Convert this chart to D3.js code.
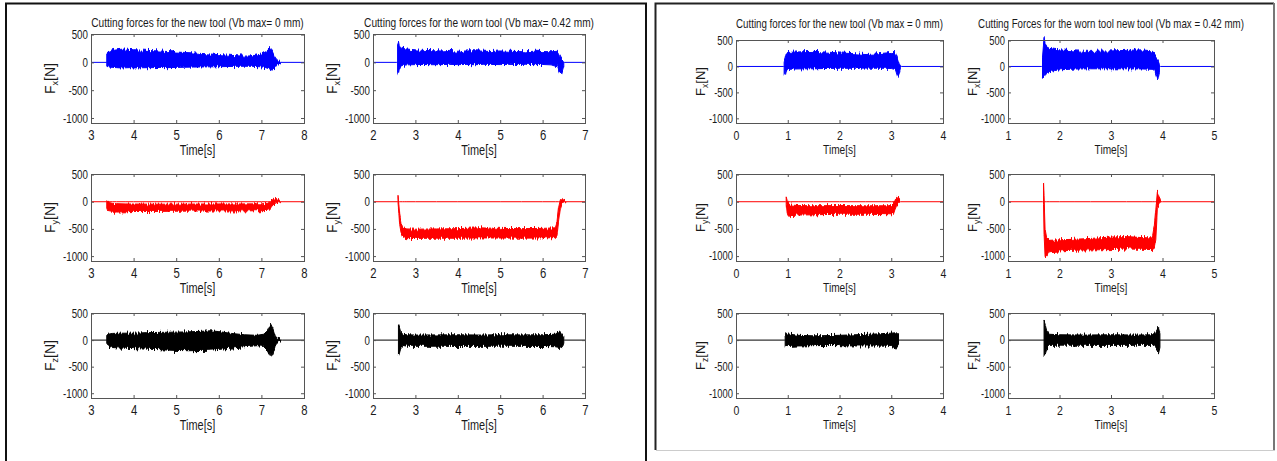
<!DOCTYPE html>
<html lang="en">
<head>
<meta charset="UTF-8">
<title>Cutting forces - new tool vs worn tool</title>
<script src="https://d3js.org/d3.v7.min.js"></script>
<style>
  body { margin: 0; background: #fff; }
  svg text { font-family: "Liberation Sans", Arial, Helvetica, sans-serif; fill: #1a1a1a; }
  .box { fill: none; stroke: #555; stroke-width: 1px; }
  .tick line { stroke: #555; }
  .sig { stroke-width: 1px; stroke-linejoin: round; }
</style>
</head>
<body>
<svg id="chart" width="1277" height="461">
  <defs>
    <filter id="rough" filterUnits="userSpaceOnUse" x="0" y="0" width="1277" height="461">
      <feTurbulence type="fractalNoise" baseFrequency="0.7 0.03" numOctaves="1" seed="3" result="n"/>
      <feColorMatrix in="n" type="matrix" values="0 0 0 0 0.5  1 0 0 0 0  0 0 0 0 0  0 0 0 0 1" result="m"/>
      <feDisplacementMap in="SourceGraphic" in2="m" scale="8" xChannelSelector="R" yChannelSelector="G"/>
    </filter>
  </defs>
</svg>
<script>
// ---- tick values -------------------------------------------------------
const yTicks = [500, 0, -500, -1000];
const yDomain = [-1090, 510];
const xTicksA1 = [3, 4, 5, 6, 7, 8];
const xTicksA2 = [2, 3, 4, 5, 6, 7];
const xTicksB1 = [0, 1, 2, 3, 4];
const xTicksB2 = [1, 2, 3, 4, 5];

// ---- titles ------------------------------------------------------------
const titleA1 = "Cutting forces for the new tool (Vb max= 0 mm)";
const titleA2 = "Cutting forces for the worn tool (Vb max= 0.42 mm)";
const titleB1 = "Cutting forces for the new tool (Vb max = 0 mm)";
const titleB2 = "Cutting Forces for the worn tool new tool (Vb max = 0.42 mm)";
const components = ["x", "y", "z"];

// ---- signal envelopes (time [s], upper [N], lower [N]) -----------------
// left figure, new tool
const aFxNewT  = [3.00, 3.36, 3.37, 3.40, 3.45, 3.50, 3.60, 3.70, 3.80, 3.90, 4.00, 4.20, 4.40, 4.60, 4.80, 5.00, 5.20, 5.40, 5.60, 5.80, 6.00, 6.20, 6.40, 6.60, 6.80, 7.00, 7.10, 7.20, 7.25, 7.30, 7.35, 7.40, 7.45, 8.00];
const aFxNewHi = [0, 0, 150, 175, 190, 210, 225, 235, 240, 232, 228, 220, 212, 205, 195, 185, 178, 170, 160, 150, 140, 130, 120, 112, 118, 150, 190, 250, 210, 120, 60, 30, 10, 0];
const aFxNewLo = [0, 0, -70, -80, -85, -90, -95, -100, -98, -95, -100, -97, -95, -92, -95, -90, -88, -85, -82, -80, -78, -75, -72, -70, -72, -80, -95, -120, -140, -120, -60, -30, -10, 0];

const aFyNewT  = [3.00, 3.36, 3.37, 3.40, 3.50, 3.60, 3.80, 4.00, 4.50, 5.00, 5.50, 6.00, 6.50, 7.00, 7.15, 7.20, 7.25, 7.30, 7.35, 7.40, 7.45, 8.00];
const aFyNewHi = [0, 0, 20, -10, -30, -35, -40, -42, -45, -45, -42, -40, -40, -38, -30, 0, 30, 50, 60, 40, 15, 0];
const aFyNewLo = [0, 0, -120, -180, -195, -190, -185, -180, -178, -175, -172, -170, -168, -165, -160, -130, -80, -40, -20, -10, 0, 0];

const aFzNewT  = [3.00, 3.36, 3.37, 3.40, 3.50, 3.70, 4.00, 4.30, 4.60, 5.00, 5.30, 5.60, 5.80, 6.00, 6.30, 6.60, 6.90, 7.05, 7.15, 7.22, 7.28, 7.32, 7.36, 7.45, 7.50, 8.00];
const aFzNewHi = [0, 0, 90, 110, 125, 130, 130, 140, 145, 150, 155, 165, 175, 160, 125, 100, 90, 110, 180, 300, 200, 90, 40, 20, 0, 0];
const aFzNewLo = [0, 0, -80, -110, -140, -150, -160, -170, -180, -195, -200, -195, -190, -175, -150, -125, -105, -120, -200, -310, -220, -100, -40, -20, 0, 0];

// left figure, worn tool
const aFxWornT  = [2.00, 2.56, 2.58, 2.60, 2.62, 2.65, 2.70, 2.80, 3.00, 3.20, 3.40, 3.60, 3.80, 4.00, 4.20, 4.40, 4.60, 4.80, 5.00, 5.20, 5.40, 5.60, 5.80, 6.00, 6.20, 6.35, 6.40, 6.45, 6.50, 6.52, 7.00];
const aFxWornHi = [0, 0, 330, 380, 300, 260, 250, 240, 225, 215, 210, 205, 215, 200, 205, 210, 200, 195, 205, 200, 195, 190, 200, 195, 190, 200, 130, 60, 20, 0, 0];
const aFxWornLo = [0, 0, -150, -200, -120, -70, -55, -45, -40, -38, -42, -40, -36, -40, -38, -42, -35, -38, -40, -36, -38, -35, -40, -38, -45, -80, -190, -200, -60, 0, 0];

const aFyWornT  = [2.00, 2.57, 2.59, 2.61, 2.63, 2.66, 2.70, 2.75, 2.80, 3.00, 3.50, 4.00, 4.50, 5.00, 5.50, 6.00, 6.30, 6.34, 6.38, 6.42, 6.46, 6.50, 6.55, 7.00];
const aFyWornHi = [0, 0, 100, -50, -250, -400, -460, -490, -500, -505, -500, -495, -480, -490, -495, -490, -480, -380, -100, 40, 60, 30, 10, 0];
const aFyWornLo = [0, 0, -20, -200, -420, -560, -640, -670, -680, -675, -670, -672, -665, -668, -670, -665, -660, -620, -350, -120, -20, -5, 0, 0];

const aFzWornT  = [2.00, 2.58, 2.60, 2.62, 2.65, 2.70, 2.80, 3.00, 3.50, 4.00, 4.50, 5.00, 5.50, 6.00, 6.30, 6.40, 6.45, 6.50, 6.52, 7.00];
const aFzWornHi = [0, 0, 290, 250, 160, 110, 100, 95, 98, 100, 95, 100, 98, 100, 110, 170, 130, 60, 0, 0];
const aFzWornLo = [0, 0, -300, -260, -170, -100, -115, -118, -115, -120, -118, -115, -118, -120, -125, -140, -120, -60, 0, 0];

// right figure, new tool
const bFxNewT  = [0.00, 0.92, 0.93, 0.95, 0.97, 1.00, 1.10, 1.30, 1.50, 1.70, 2.00, 2.30, 2.50, 2.70, 2.90, 3.00, 3.08, 3.12, 3.15, 3.18, 3.20, 4.00];
const bFxNewHi = [0, 0, 100, 180, 260, 270, 275, 285, 290, 280, 260, 245, 230, 240, 260, 270, 265, 160, 60, 10, 0, 0];
const bFxNewLo = [0, 0, -150, -175, -80, -60, -50, -45, -45, -40, -35, -35, -32, -35, -35, -40, -60, -190, -150, -20, 0, 0];

const bFyNewT  = [0.00, 0.96, 0.97, 0.99, 1.02, 1.05, 1.20, 1.50, 2.00, 2.50, 3.00, 3.04, 3.07, 3.10, 3.13, 3.16, 3.18, 4.00];
const bFyNewHi = [0, 0, 90, 20, -40, -60, -70, -75, -70, -75, -75, -40, 20, 80, 90, 60, 0, 0];
const bFyNewLo = [0, 0, -50, -230, -270, -255, -245, -240, -230, -230, -240, -235, -150, -80, -40, -10, 0, 0];

const bFzNewT  = [0.00, 0.94, 0.95, 0.97, 1.00, 1.20, 1.50, 1.80, 2.00, 2.30, 2.60, 2.90, 3.00, 3.10, 3.14, 3.17, 4.00];
const bFzNewHi = [0, 0, 110, 130, 115, 90, 80, 85, 90, 100, 110, 125, 130, 140, 100, 0, 0];
const bFzNewLo = [0, 0, -120, -135, -120, -110, -105, -100, -105, -110, -112, -115, -120, -150, -100, 0, 0];

// right figure, worn tool
const bFxWornT  = [1.00, 1.65, 1.67, 1.70, 1.72, 1.75, 1.80, 1.90, 2.00, 2.30, 2.60, 3.00, 3.30, 3.60, 3.80, 3.85, 3.88, 3.91, 3.94, 3.96, 5.00];
const bFxWornHi = [0, 0, 200, 560, 420, 380, 350, 330, 320, 300, 290, 300, 310, 320, 300, 240, 180, 120, 40, 0, 0];
const bFxWornLo = [0, 0, -230, -200, -150, -120, -100, -80, -65, -50, -45, -45, -45, -48, -55, -80, -180, -260, -120, 0, 0];

const bFyWornT  = [1.00, 1.67, 1.69, 1.70, 1.72, 1.75, 1.80, 2.00, 2.30, 2.60, 3.00, 3.30, 3.60, 3.80, 3.84, 3.87, 3.90, 3.93, 3.96, 4.00, 5.00];
const bFyWornHi = [0, 0, 360, 100, -500, -660, -710, -700, -690, -675, -650, -640, -660, -665, -450, -150, 180, 100, 40, 0, 0];
const bFyWornLo = [0, 0, -50, -600, -1030, -1010, -920, -905, -890, -885, -880, -870, -875, -880, -860, -700, -120, -30, -10, 0, 0];

const bFzWornT  = [1.00, 1.68, 1.70, 1.72, 1.75, 1.80, 2.00, 2.50, 3.00, 3.50, 3.80, 3.87, 3.92, 3.95, 3.97, 5.00];
const bFzWornHi = [0, 0, 360, 300, 180, 110, 100, 95, 100, 95, 100, 150, 240, 120, 0, 0];
const bFzWornLo = [0, 0, -290, -260, -160, -100, -95, -98, -100, -98, -100, -150, -245, -120, 0, 0];

const rowColors = ["#0000ff", "#ff0000", "#000000"];

// ---- layout --------------------------------------------------------------
const layout = {
  A: { cols: [[91, 304], [373, 585]], rows: [[34, 123], [174, 261], [313, 398]],
       titleY: 27, titleFont: 13, xFont: 14.5, yFont: 12.5, labFont: 14, yLabOff: 36, timeOff: 32 },
  B: { cols: [[736, 943], [1008, 1214]], rows: [[40, 123], [174, 261], [313, 398]],
       titleY: 27.5, titleFont: 12.5, xFont: 13.5, yFont: 12, labFont: 13, yLabOff: 31, timeOff: 31 }
};
const squeeze = 0.78;

const plots = [
  { panel: "A", col: 0, row: 0, xt: xTicksA1, t: aFxNewT, hi: aFxNewHi, lo: aFxNewLo },
  { panel: "A", col: 0, row: 1, xt: xTicksA1, t: aFyNewT, hi: aFyNewHi, lo: aFyNewLo },
  { panel: "A", col: 0, row: 2, xt: xTicksA1, t: aFzNewT, hi: aFzNewHi, lo: aFzNewLo },
  { panel: "A", col: 1, row: 0, xt: xTicksA2, t: aFxWornT, hi: aFxWornHi, lo: aFxWornLo },
  { panel: "A", col: 1, row: 1, xt: xTicksA2, t: aFyWornT, hi: aFyWornHi, lo: aFyWornLo },
  { panel: "A", col: 1, row: 2, xt: xTicksA2, t: aFzWornT, hi: aFzWornHi, lo: aFzWornLo },
  { panel: "B", col: 0, row: 0, xt: xTicksB1, t: bFxNewT, hi: bFxNewHi, lo: bFxNewLo },
  { panel: "B", col: 0, row: 1, xt: xTicksB1, t: bFyNewT, hi: bFyNewHi, lo: bFyNewLo },
  { panel: "B", col: 0, row: 2, xt: xTicksB1, t: bFzNewT, hi: bFzNewHi, lo: bFzNewLo },
  { panel: "B", col: 1, row: 0, xt: xTicksB2, t: bFxWornT, hi: bFxWornHi, lo: bFxWornLo },
  { panel: "B", col: 1, row: 1, xt: xTicksB2, t: bFyWornT, hi: bFyWornHi, lo: bFyWornLo },
  { panel: "B", col: 1, row: 2, xt: xTicksB2, t: bFzWornT, hi: bFzWornHi, lo: bFzWornLo }
];
const titles = { A: [titleA1, titleA2], B: [titleB1, titleB2] };

const svg = d3.select("#chart");

// ---- figure frames -------------------------------------------------------
svg.append("path").attr("d", "M6,461V3.5H646V461")
  .attr("fill", "none").attr("stroke", "#111").attr("stroke-width", 2);
svg.append("path").attr("d", "M655.5,450V3.5H1274")
  .attr("fill", "none").attr("stroke", "#222").attr("stroke-width", 2);
svg.append("path").attr("d", "M1274,3V450")
  .attr("fill", "none").attr("stroke", "#777").attr("stroke-width", 2);
svg.append("path").attr("d", "M656,450.5H1275")
  .attr("fill", "none").attr("stroke", "#ccc").attr("stroke-width", 1);

// ---- subplots -------------------------------------------------------------
plots.forEach(function (p) {
  const L = layout[p.panel];
  const [x0, x1] = L.cols[p.col];
  const [y0, y1] = L.rows[p.row];

  const x = d3.scaleLinear().domain(d3.extent(p.xt)).range([x0, x1]);
  const y = d3.scaleLinear().domain(yDomain).range([y1, y0]);
  const color = rowColors[p.row];
  const g = svg.append("g");

  const data = p.t.map((t, i) => ({ t: t, hi: p.hi[i], lo: p.lo[i] }));
  const isFlat = d => d.hi === 0 && d.lo === 0;

  // quiet baseline at zero over the whole record
  g.append("path").datum(data)
    .attr("fill", "none").attr("stroke", color).attr("stroke-width", 1)
    .attr("d", d3.line().x(d => x(d.t)).y(d => y(0)));

  // cutting stretch: filled envelope with a rough edge
  const i0 = data.findIndex(d => !isFlat(d));
  let i1 = data.length - 1;
  while (i1 > 0 && isFlat(data[i1])) i1--;
  const cut = data.slice(i0, i1 + 1);
  g.append("path").datum(cut)
    .attr("class", "sig")
    .attr("fill", color).attr("stroke", color)
    .attr("filter", "url(#rough)")
    .attr("d", d3.area().x(d => x(d.t)).y0(d => y(d.lo)).y1(d => y(d.hi)));

  // inward ticks on all four sides
  const bottom = g.append("g").attr("transform", `translate(0,${y1})`)
    .call(d3.axisBottom(x).tickValues(p.xt).tickSize(-3).tickPadding(7).tickFormat(d => String(d)));
  bottom.selectAll("text").attr("font-size", L.xFont).attr("transform", `scale(${squeeze},1)`);
  g.append("g").attr("transform", `translate(0,${y0})`)
    .call(d3.axisTop(x).tickValues(p.xt).tickSize(-3).tickFormat(""));
  const left = g.append("g").attr("transform", `translate(${x0},0)`)
    .call(d3.axisLeft(y).tickValues(yTicks).tickSize(-3).tickPadding(4).tickFormat(d => String(d)));
  left.selectAll("text").attr("font-size", L.yFont).attr("transform", `scale(${squeeze},1)`);
  g.append("g").attr("transform", `translate(${x1},0)`)
    .call(d3.axisRight(y).tickValues(yTicks).tickSize(-3).tickFormat(""));
  g.selectAll(".domain").remove();
  g.selectAll("text").attr("font-family", null).attr("fill", "#1a1a1a");

  g.append("rect").attr("class", "box")
    .attr("x", x0 + 0.5).attr("y", y0 + 0.5)
    .attr("width", x1 - x0).attr("height", y1 - y0);

  // x label
  g.append("text")
    .attr("transform", `translate(${(x0 + x1) / 2},${y1 + L.timeOff}) scale(${squeeze},1)`)
    .attr("text-anchor", "middle").attr("font-size", L.labFont)
    .text("Time[s]");

  // y label F_x[N]
  const yl = g.append("text")
    .attr("transform", `translate(${x0 - L.yLabOff},${(y0 + y1) / 2}) rotate(-90)`)
    .attr("text-anchor", "middle").attr("font-size", L.labFont);
  yl.append("tspan").text("F");
  yl.append("tspan").attr("font-size", L.labFont * 0.65).attr("dy", 3).text(components[p.row]);
  yl.append("tspan").attr("dy", -3).text("[N]");

  // title on the top row
  if (p.row === 0) {
    g.append("text")
      .attr("transform", `translate(${(x0 + x1) / 2},${L.titleY}) scale(${squeeze},1)`)
      .attr("text-anchor", "middle").attr("font-size", L.titleFont)
      .text(titles[p.panel][p.col]);
  }
});
</script>
</body>
</html>
